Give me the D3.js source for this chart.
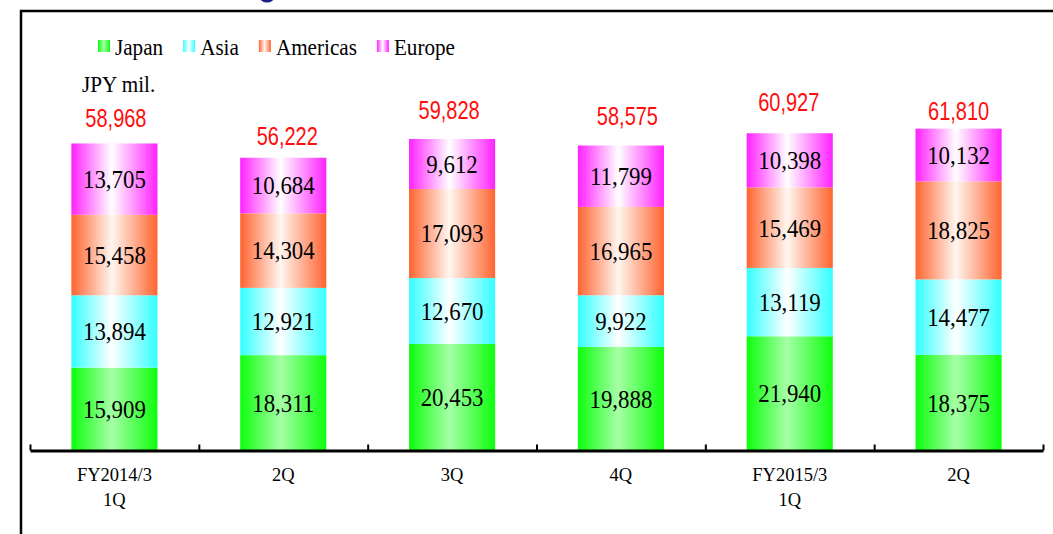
<!DOCTYPE html>
<html>
<head>
<meta charset="utf-8">
<script src="https://cdn.jsdelivr.net/npm/d3@7"></script>
<style>
  html, body { margin: 0; padding: 0; background: #fff; }
  svg { display: block; }
</style>
</head>
<body>
<svg id="chart" width="1053" height="534"></svg>
<script>
// Quarterly sales by region (JPY mil.)
const categories = ["FY2014/3\n1Q", "2Q", "3Q", "4Q", "FY2015/3\n1Q", "2Q"];
const regions = ["Japan", "Asia", "Americas", "Europe"];
const japan    = [15909, 18311, 20453, 19888, 21940, 18375];
const asia     = [13894, 12921, 12670,  9922, 13119, 14477];
const americas = [15458, 14304, 17093, 16965, 15469, 18825];
const europe   = [13705, 10684,  9612, 11799, 10398, 10132];
const totals   = [58968, 56222, 59828, 58575, 60927, 61810];
const unitLabel = "JPY mil.";

const seriesValues = { Japan: japan, Asia: asia, Americas: americas, Europe: europe };

// edge colour and centre colour of each region's horizontal gradient
const regionColors = {
  Japan:    { edge: "#0dff0d", mid: "#a6ffa6" },
  Asia:     { edge: "#33ffff", mid: "#ffffff" },
  Americas: { edge: "#ff6430", mid: "#fff6f0" },
  Europe:   { edge: "#ff22ff", mid: "#ffffff" }
};

const svg = d3.select("#chart");
const serif = "'Liberation Serif', 'Times New Roman', serif";
const sans = "'Liberation Sans', Arial, sans-serif";

// gradients
const defs = svg.append("defs");
regions.forEach(r => {
  const g = defs.append("linearGradient")
    .attr("id", "grad-" + r)
    .attr("x1", "0%").attr("x2", "100%").attr("y1", "0%").attr("y2", "0%");
  g.append("stop").attr("offset", "0%").attr("stop-color", regionColors[r].edge);
  g.append("stop").attr("offset", "47%").attr("stop-color", regionColors[r].mid);
  g.append("stop").attr("offset", "100%").attr("stop-color", regionColors[r].edge);
});

// frame lines
svg.append("line").attr("x1", 20).attr("x2", 1053).attr("y1", 11).attr("y2", 11)
  .attr("stroke", "#000").attr("stroke-width", 2.5);
svg.append("line").attr("x1", 21).attr("x2", 21).attr("y1", 10).attr("y2", 534)
  .attr("stroke", "#000").attr("stroke-width", 2.5);

// lower curve of the heading's letter, just inside the top edge
svg.append("ellipse").attr("cx", 267).attr("cy", -3.5).attr("rx", 6).attr("ry", 4.5)
  .attr("fill", "none").attr("stroke", "#1c1c8c").attr("stroke-width", 3);

// scales
const axisLeft = 30, axisRight = 1043, baseY = 450.5;
const x = d3.scaleBand().domain(d3.range(categories.length))
  .range([axisLeft, axisRight]).paddingInner(0.49).paddingOuter(0.245);
const y = d3.scaleLinear().domain([0, 70000]).range([baseY, 86]);

// stacked bars
const rows = categories.map((c, i) => {
  const o = { idx: i };
  regions.forEach(r => { o[r] = seriesValues[r][i]; });
  return o;
});
const stacked = d3.stack().keys(regions)(rows);

const layers = svg.append("g").selectAll("g").data(stacked).join("g")
  .attr("fill", d => "url(#grad-" + d.key + ")");
layers.selectAll("rect").data(d => d).join("rect")
  .attr("x", d => x(d.data.idx))
  .attr("width", x.bandwidth())
  .attr("y", d => y(d[1]))
  .attr("height", d => y(d[0]) - y(d[1]));

// segment value labels
const fmt = d3.format(",");
const labelG = svg.append("g");
stacked.forEach(layer => {
  layer.forEach(d => {
    const cx = x(d.data.idx) + x.bandwidth() / 2;
    const cy = (y(d[0]) + y(d[1])) / 2;
    labelG.append("text")
      .attr("transform", `translate(${cx},${cy}) scale(0.88,1)`)
      .attr("dy", "0.34em")
      .attr("text-anchor", "middle")
      .attr("font-family", serif).attr("font-size", 26)
      .attr("fill", "#000")
      .text(fmt(d[1] - d[0]));
  });
});

// totals above bars (small per-label nudges: [dx, baseline gap above bar])
const totalLabelOffset = [[1.5, 16], [4, 12.3], [-3, 20], [6.5, 20], [-1, 22.4], [0, 8.4]];
totals.forEach((t, i) => {
  const cx = x(i) + x.bandwidth() / 2 + totalLabelOffset[i][0];
  const by = y(t) - totalLabelOffset[i][1];
  svg.append("text")
    .attr("transform", `translate(${cx},${by}) scale(0.8,1)`)
    .attr("text-anchor", "middle")
    .attr("font-family", sans).attr("font-size", 25)
    .attr("fill", "#ff0d0d")
    .text(fmt(t));
});

// x axis with boundary ticks pointing up
const edges = d3.scaleLinear().domain([0, categories.length]).range([axisLeft, axisRight]);
const axisG = svg.append("g").attr("transform", `translate(0,${baseY})`)
  .call(d3.axisBottom(edges).tickValues(d3.range(categories.length + 1))
    .tickSize(-6).tickSizeOuter(0).tickFormat(""));
axisG.select(".domain").attr("stroke", "#000").attr("stroke-width", 3);
axisG.selectAll(".tick line").attr("stroke", "#000").attr("stroke-width", 2);

// category labels
categories.forEach((c, i) => {
  const cx = x(i) + x.bandwidth() / 2;
  c.split("\n").forEach((line, j) => {
    svg.append("text")
      .attr("transform", `translate(${cx},${481 + j * 25}) scale(0.95,1)`)
      .attr("text-anchor", "middle")
      .attr("font-family", serif).attr("font-size", 19.5)
      .attr("fill", "#000")
      .text(line);
  });
});

// unit label
svg.append("text")
  .attr("transform", "translate(82,92) scale(0.9,1)")
  .attr("font-family", serif).attr("font-size", 23.5)
  .attr("fill", "#000").text(unitLabel);

// legend
const legend = svg.append("g");
let lx = 98;
const textScale = 0.9;
regions.forEach(r => {
  legend.append("rect").attr("x", lx).attr("y", 40).attr("width", 12).attr("height", 12)
    .attr("fill", "url(#grad-" + r + ")");
  const t = legend.append("text")
    .attr("transform", `translate(${lx + 17},55) scale(${textScale},1)`)
    .attr("font-family", serif).attr("font-size", 23.5)
    .attr("fill", "#000").text(r);
  lx = lx + 17 + t.node().getComputedTextLength() * textScale + 20;
});
</script>
</body>
</html>
